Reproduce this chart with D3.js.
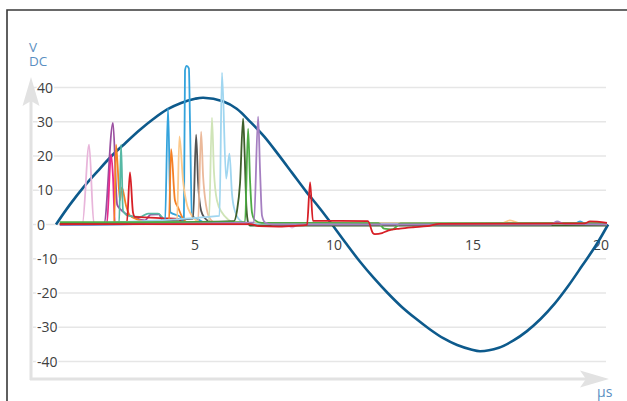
<!DOCTYPE html>
<html>
<head>
<meta charset="utf-8">
<script src="https://cdn.jsdelivr.net/npm/d3@7"></script>
<style>
  html, body { margin: 0; padding: 0; background: #fff; }
  svg { display: block; font-family: "Open Sans", "Noto Sans", sans-serif; }
</style>
</head>
<body>
<svg id="chart" width="627" height="401"></svg>
<script>
// axis ticks
const yTicks = [40, 30, 20, 10, 0, -10, -20, -30, -40];
const xTicks = [5, 10, 15, 20];

// supply voltage (V DC) against time (µs)
const sineX = [0, 0.5, 1, 1.5, 2, 2.5, 3, 3.5, 4, 4.5, 5, 5.3, 6, 6.5, 7, 7.5, 8, 8.5, 9, 9.5, 9.93,
  10.43, 10.93, 11.43, 11.93, 12.43, 12.93, 13.43, 13.93, 14.43, 14.93, 15.25, 15.93, 16.43, 16.93, 17.43, 17.93, 18.43, 18.93, 19.43, 19.86];
const sineV = [0, 5.8, 11, 15.6, 20, 23.8, 27.5, 30.8, 33.6, 35.5, 36.7, 37, 36, 33.8, 29.9, 25.6, 20.4, 15, 9.6, 4.6, 0,
  -5.5, -10.8, -15.6, -20, -24, -27.4, -30.5, -33.2, -35.2, -36.5, -37, -36, -34, -31.2, -27.6, -23.2, -17.9, -12, -6, 0];

// transient traces [µs, V]
const pinkLight = [[0.14,0.1],[0.95,0.3],[1.19,23.3],[1.36,0.5],[3,0.1],[8.3,0],[8.49,-0.9],[8.7,0],[19.82,0.1]];
const purple = [[0.14,0.2],[1.73,0.4],[2.05,29.7],[2.2,5.8],[2.3,4.6],[2.84,2.0],[3.2,1.2],[3.4,2.9],[3.7,3.0],[3.85,0.8],[4.2,0.2],[19.82,0.1]];
const magenta = [[0.14,0],[1.83,0.2],[1.98,20.5],[2.05,14],[2.12,0.3],[19.82,0]];
const orange1 = [[0.14,0.3],[2.09,0.3],[2.16,23.3],[2.3,7],[2.37,10.8],[2.52,5.5],[2.66,2.6],[3.02,1.2],[3.3,0.3],[19.82,0.3]];
const teal = [[0.14,0.4],[2.27,0.4],[2.34,23.3],[2.41,4],[2.59,2.6],[3.02,2.2],[3.31,3.2],[3.67,3.2],[3.92,1.2],[4.3,0.4],[19.82,0.4]];
const red1 = [[0.14,0.2],[2.55,0.6],[2.66,15.2],[2.77,3.5],[2.84,2.2],[3.38,2.0],[3.9,1.8],[4.4,1.6],[4.6,0.5],[19.82,0.2]];
const blue = [[0.14,-0.2],[3.92,0.4],[4.03,34],[4.12,3.5],[4.46,2.3],[4.6,0.8],[4.64,45],[4.7,46.3],[4.78,45.6],[4.82,30],[4.89,2.6],[5.11,1.5],[5.4,0.4],[18.6,0],[18.85,0.9],[19.1,0],[19.82,0]];
const orange2 = [[0.14,0.1],[4.06,0.2],[4.14,22],[4.28,7],[4.39,5],[4.53,2.3],[4.8,0.3],[19.82,0.1]];
const lightOrange = [[0.14,0.3],[4.35,0.6],[4.44,25.7],[4.57,12.8],[4.72,5.5],[4.82,3.5],[5.0,1.5],[5.3,0.3],[16.0,0.3],[16.33,1.2],[16.7,0.3],[19.82,0.3]];
const darkGray = [[0.14,0],[4.93,1.7],[5.04,26.2],[5.11,12.5],[5.22,4],[5.36,1.8],[5.54,0.8],[5.8,0.2],[19.82,0]];
const peach = [[0.14,0.2],[5.11,0.8],[5.22,27.1],[5.29,14.3],[5.4,5.5],[5.54,1.7],[5.8,0.3],[19.82,0.2]];
const paleGreen = [[0.14,0.3],[5.5,0.8],[5.61,31.2],[5.68,15.7],[5.79,7],[5.97,3.5],[6.19,1.5],[6.5,0.3],[19.82,0.3]];
const skyLight = [[0.14,0.1],[5.88,2.5],[5.97,44.3],[6.12,13.4],[6.24,20.7],[6.33,9],[6.4,5],[6.62,1.2],[6.9,0.2],[19.82,0.1]];
const darkGreen = [[0.14,0.2],[6.4,1.0],[6.51,4],[6.62,12],[6.73,30.9],[6.78,22],[6.85,5],[6.91,0.6],[6.98,-0.3],[19.82,-0.3]];
const green = [[0.14,0.7],[6.8,0.7],[6.91,28],[6.98,12.8],[7.05,3.5],[7.16,1.2],[7.4,0.5],[11.6,0.4],[11.8,-1.2],[12.1,-1.4],[12.4,0.3],[19.82,0.4]];
const lavender = [[0.14,-0.1],[7.12,0.6],[7.27,31.5],[7.34,15.7],[7.41,2.6],[7.52,0.6],[7.8,0],[17.8,0],[18.02,0.9],[18.3,0.1],[19.82,0]];
const red2 = [[0.14,0.1],[7.0,0.1],[7.3,-0.5],[8.0,-0.6],[8.6,-0.4],[9.03,-0.1],[9.14,12.3],[9.24,1.1],[11.22,1.0],[11.4,-2.5],[11.47,-2.8],[11.73,-2.5],[11.94,-1.8],[12.37,-1.2],[12.84,-0.8],[13.35,-0.5],[13.8,0.2],[19.0,0.3],[19.21,0.9],[19.82,0.5]];

const traces = [
  { data: pinkLight, color: "#e8b5da" },
  { data: purple, color: "#9a4fa0" },
  { data: magenta, color: "#e8298b" },
  { data: orange1, color: "#f58025" },
  { data: teal, color: "#56b8a4" },
  { data: red1, color: "#d71f26" },
  { data: blue, color: "#34a3dc" },
  { data: orange2, color: "#f58025" },
  { data: lightOrange, color: "#fdc98a" },
  { data: darkGray, color: "#545454" },
  { data: peach, color: "#ebb99a" },
  { data: paleGreen, color: "#cfe4b7" },
  { data: skyLight, color: "#a0d6f0" },
  { data: darkGreen, color: "#3e5f2b" },
  { data: green, color: "#4eac45" },
  { data: lavender, color: "#a57fc1" },
  { data: red2, color: "#d71f26" }
];

const svg = d3.select("#chart");

const x = d3.scaleLinear().domain([0, 20]).range([56, 612]);
const y = d3.scaleLinear().domain([-40, 40]).range([361.5, 87.5]);

const axisGray = "#e2e2e2";
const labelColor = "#404040";
const unitColor = "#5a8fc2";

// frame
svg.append("path")
  .attr("d", "M7,401V10H627")
  .attr("fill", "none")
  .attr("stroke", "#383838")
  .attr("stroke-width", 1.6);

// grid
svg.append("g")
  .selectAll("line")
  .data(yTicks)
  .enter()
  .append("line")
  .attr("x1", 33)
  .attr("x2", 606)
  .attr("y1", d => y(d))
  .attr("y2", d => y(d))
  .attr("stroke", "#e6e6e6")
  .attr("stroke-width", 1.5);

// arrows
svg.append("line")
  .attr("x1", 31).attr("x2", 31)
  .attr("y1", 100).attr("y2", 380)
  .attr("stroke", axisGray).attr("stroke-width", 3);
svg.append("line")
  .attr("x1", 30).attr("x2", 592)
  .attr("y1", 379).attr("y2", 379)
  .attr("stroke", axisGray).attr("stroke-width", 3);
svg.append("path")
  .attr("d", "M31,77L22.5,106L31,101L39.5,106Z")
  .attr("fill", axisGray);
svg.append("path")
  .attr("d", "M609,379L580,370.5L586,379L580,387.5Z")
  .attr("fill", axisGray);

// y labels
svg.append("g")
  .selectAll("text")
  .data(yTicks)
  .enter()
  .append("text")
  .attr("x", 37)
  .attr("y", d => y(d))
  .attr("dy", "0.36em")
  .attr("font-size", 14)
  .attr("fill", labelColor)
  .attr("stroke", "#fff")
  .attr("stroke-width", 3)
  .attr("paint-order", "stroke")
  .text(d => d);

// x labels
svg.append("g")
  .selectAll("text")
  .data(xTicks)
  .enter()
  .append("text")
  .attr("x", d => x(d) + (d === 20 ? -11 : 0))
  .attr("y", 250)
  .attr("text-anchor", "middle")
  .attr("font-size", 14)
  .attr("fill", labelColor)
  .text(d => d);

// unit labels
svg.append("text").attr("x", 29).attr("y", 51.5)
  .attr("font-size", 13.5).attr("fill", unitColor).text("V");
svg.append("text").attr("x", 29).attr("y", 65.5)
  .attr("font-size", 13.5).attr("fill", unitColor).text("DC");
svg.append("text").attr("x", 597).attr("y", 397)
  .attr("font-size", 14).attr("fill", unitColor).text("µs");

// sine
const sine = sineX.map((t, i) => [t, sineV[i]]);
const sineLine = d3.line()
  .x(d => x(d[0]))
  .y(d => y(d[1]))
  .curve(d3.curveCatmullRom.alpha(0.5));

const line = d3.line()
  .x(d => x(d[0]))
  .y(d => y(d[1]))
  .curve(d3.curveMonotoneX);

svg.append("path")
  .datum(sine)
  .attr("d", sineLine)
  .attr("fill", "none")
  .attr("stroke", "#0d5a8c")
  .attr("stroke-width", 2.6);

// traces
svg.append("g")
  .selectAll("path")
  .data(traces)
  .enter()
  .append("path")
  .attr("d", d => line(d.data))
  .attr("fill", "none")
  .attr("stroke", d => d.color)
  .attr("stroke-width", 1.8)
  .attr("stroke-linejoin", "round");
</script>
</body>
</html>
